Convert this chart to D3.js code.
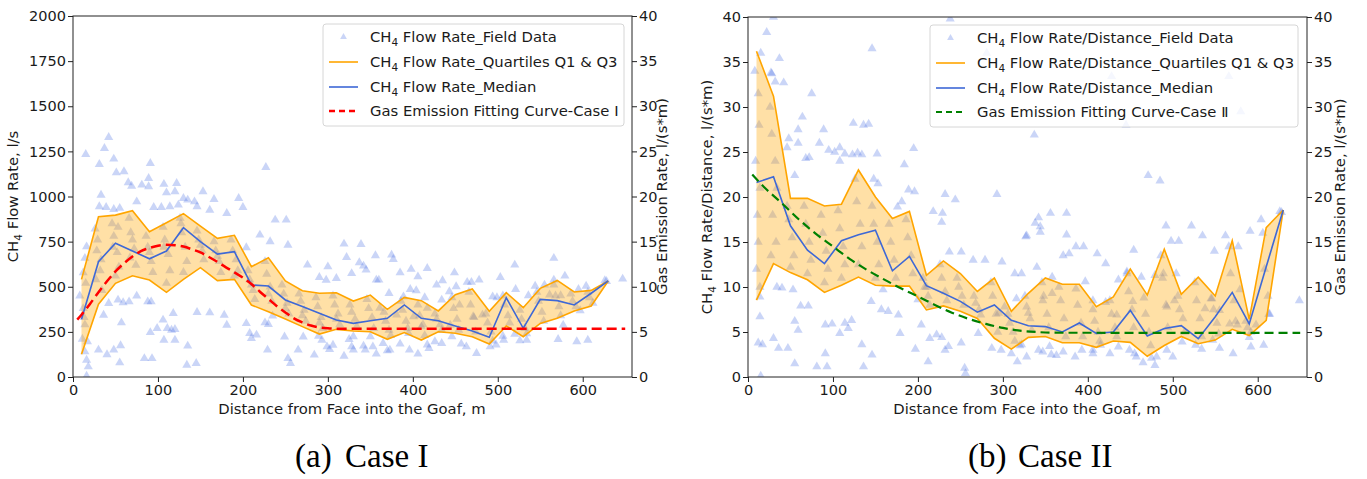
<!DOCTYPE html>
<html>
<head>
<meta charset="utf-8">
<script src="https://cdn.jsdelivr.net/npm/d3@7/dist/d3.min.js"></script>
<style>
body { margin: 0; background: #fff; }
svg text { font-family: "DejaVu Sans", sans-serif; fill: #1a1a1a; }
</style>
</head>
<body>
<svg id="chart" width="1367" height="479"></svg>
<script>
// bin centres used for quartiles and medians (m)
var binX = [10, 30, 50, 70, 90, 110, 130, 150, 170, 190, 210, 230, 250, 270, 290, 310,
            330, 350, 370, 390, 410, 430, 450, 470, 490, 510, 530, 550, 570, 590, 610, 630];
var xTicks = [0, 100, 200, 300, 400, 500, 600];
var leftTicks = [0, 250, 500, 750, 1000, 1250, 1500, 1750, 2000];
var rateTicks = [0, 5, 10, 15, 20, 25, 30, 35, 40];

// Case I, CH4 flow rate (l/s)
var caseOneQ1 = [126, 403, 519, 561, 537, 469, 541, 606, 534, 541, 399, 362, 321, 279, 238, 264,
                 255, 251, 209, 246, 205, 251, 242, 223, 183, 283, 223, 297, 325, 366, 393, 532];
var caseOneQ3 = [541, 888, 897, 921, 805, 855, 905, 836, 768, 785, 611, 661, 532, 478, 464, 467,
                 421, 454, 375, 441, 423, 366, 456, 488, 364, 467, 384, 491, 535, 471, 480, 532];
var caseOneMedian = [320, 639, 741, 698, 655, 698, 827, 750, 681, 694, 510, 504, 427, 390, 353, 316,
                     297, 312, 325, 399, 325, 312, 283, 255, 220, 439, 270, 430, 423, 399, 464, 532];
// fitting curve, gas emission rate l/(s*m)
var caseOneFitX = [5, 10, 20, 30, 40, 50, 60, 70, 80, 90, 100, 110, 120, 130, 140, 150, 160, 170,
                   180, 190, 200, 210, 220, 230, 240, 250, 260, 270, 280, 290, 300, 310, 320, 650];
var caseOneFitY = [6.35, 6.9, 8.1, 9.4, 10.6, 11.7, 12.6, 13.35, 13.95, 14.3, 14.55, 14.65, 14.6, 14.45,
                   14.15, 13.8, 13.3, 12.75, 12.15, 11.6, 11.0, 10.3, 9.45, 8.65, 7.85, 7.15, 6.5, 6.05,
                   5.7, 5.5, 5.4, 5.36, 5.36, 5.36];
var caseOneField = [
  [42,1328],[37,1267],[15,1234],[31,1178],[48,1208],[51,1132],[60,1138],[91,1184],[65,1077],[69,1058],
  [81,1064],[89,1101],[89,1055],[107,1068],[122,1073],[110,1021],[120,1027],[130,990],[135,981],[143,971],
  [153,1027],[166,984],[195,990],[227,1162],[33,1008],[31,944],[39,940],[48,929],[55,935],[75,971],
  [95,940],[104,940],[114,944],[124,953],[146,944],[161,925],[181,907],[200,940],[238,870],[251,870],
  [204,717],[220,787],[232,750],[253,731],[276,621],[290,552],[300,611],[319,737],[322,663],[328,574],
  [310,547],[298,537],[12,578],[16,722],[14,658],[17,196],[14,140],[16,94],[18,57],[16,5],
  [30,150],[40,124],[48,150],[56,174],[55,79],[57,301],[36,343],[42,408],[53,427],[59,412],
  [66,417],[75,449],[88,417],[92,417],[91,247],[99,270],[106,316],[111,270],[118,353],[116,260],
  [120,264],[107,205],[120,205],[84,103],[93,103],[135,172],[134,66],[145,76],[146,358],[161,356],
  [181,288],[178,343],[204,297],[210,214],[216,233],[208,242],[229,150],[226,301],[235,338],[230,292],
  [249,223],[253,103],[256,76],[265,150],[271,223],[284,122],[293,205],[299,168],[302,153],[306,177],
  [319,116],[325,209],[330,150],[289,227],
  [339,735],[337,634],[342,615],[345,593],[356,673],[375,676],[377,652],[357,538],[360,538],[385,578],
  [398,597],[406,556],[417,602],[372,464],[389,445],[397,486],[404,479],[414,440],[428,510],[435,534],
  [443,473],[449,578],[451,501],[464,525],[469,525],[478,538],[494,445],[499,440],[503,552],[520,621],
  [521,486],[536,451],[544,504],[555,510],[566,658],[566,538],[579,560],[561,455],[574,451],[595,486],
  [604,504],[626,534],[647,543],[597,368],[577,288],[571,209],[593,196],[606,205],[534,205],[526,201],
  [507,205],[506,227],[520,237],[491,168],[498,178],[475,131],[463,168],[457,183],[446,224],[434,187],
  [426,196],[417,178],[419,159],[406,128],[396,150],[385,183],[373,150],[370,146],[357,128],[353,168],
  [344,150],[342,172],[365,187],[328,168],[330,224],[350,224],[361,381],[381,344],[401,335],[417,381],
  [434,427],[455,399],[471,335],[482,344],[444,288],[395,242],[410,279],
  [8,450],[12,380],[14,290],[11,210],[15,520],[13,330],[26,820],[28,700],[32,590],[34,480],
  [29,760],[33,650],[27,540],[46,850],[48,780],[52,690],[54,610],[50,560],[47,720],[53,830],
  [66,880],[68,800],[72,710],[74,620],[70,760],[67,660],[86,780],[88,720],[92,640],[94,580],
  [90,690],[106,830],[108,760],[112,680],[114,590],[110,520],[107,720],[126,880],[128,800],[132,720],
  [134,640],[130,580],[127,850],[146,810],[148,760],[152,700],[154,650],[150,730],[166,750],[168,700],
  [172,640],[174,580],[170,670],[186,760],[188,700],[192,650],[194,590],[190,560],[206,590],[208,540],
  [212,480],[214,430],[210,510],[226,640],[228,570],[232,500],[234,420],[230,460],[246,510],[248,460],
  [252,410],[254,350],[250,380],[266,460],[268,420],[272,370],[274,310],[270,340],[286,440],[288,390],
  [292,330],[294,270],[290,300],[306,450],[308,400],[312,350],[314,290],[310,320],[326,400],[328,360],
  [332,320],[334,280],[346,430],[348,380],[352,330],[354,270],[366,360],[368,310],[372,260],[374,230],
  [386,420],[388,370],[392,310],[394,270],[406,400],[408,340],[412,290],[414,230],[426,350],[428,320],
  [432,290],[434,260],[446,440],[448,380],[452,320],[454,260],[466,470],[468,400],[472,330],[474,250],
  [486,350],[488,300],[492,250],[494,200],[506,450],[508,400],[512,340],[514,300],[526,370],[528,320],
  [532,270],[534,240],[546,470],[548,420],[552,360],[554,310],[566,510],[568,450],[572,390],[574,340],
  [586,460],[588,420],[592,390],[606,470],[608,440],[612,410],[628,530]
];

// Case II, CH4 flow rate per distance l/(s*m)
var caseTwoQ1 = [8.55, 12.6, 11.6, 10.8, 9.4, 10.2, 11.1, 10.2, 10.1, 10.1, 7.45, 7.9, 7.3, 6.5, 4.3, 3.1,
                 4.4, 4.5, 3.8, 3.8, 3.3, 4.0, 3.85, 2.3, 3.5, 4.5, 3.7, 4.1, 5.3, 4.6, 6.3, 18.55];
var caseTwoQ3 = [36.2, 31.2, 19.85, 19.85, 19.0, 19.2, 23.0, 20.0, 17.6, 18.4, 11.3, 12.9, 11.5, 9.5, 11.0, 7.3,
                 9.3, 11.0, 10.3, 10.3, 7.8, 8.9, 12.0, 9.1, 14.2, 9.2, 11.1, 9.0, 15.15, 6.4, 16.6, 18.55];
var caseTwoMedian = [21.6, 22.25, 16.8, 14.1, 12.6, 15.15, 15.8, 16.3, 11.8, 13.4, 10.15, 9.3, 8.4, 7.2, 8.0, 6.3,
                     5.7, 5.6, 5.0, 6.0, 4.85, 5.0, 7.4, 4.55, 5.4, 5.7, 4.25, 6.7, 9.4, 5.9, 12.25, 18.55];
var caseTwoFitX = [5, 20, 40, 60, 80, 100, 120, 140, 160, 180, 200, 220, 240, 260, 280, 300, 320, 340, 360, 650];
var caseTwoFitY = [22.5, 21.0, 19.3, 17.5, 15.9, 14.5, 13.1, 11.9, 10.85, 9.85, 8.95, 8.0, 7.15, 6.45,
                   5.9, 5.45, 5.15, 5.0, 4.92, 4.9];
var caseTwoField = [
  [22,38.3],[15,36.0],[37,35.4],[28,33.7],[32,32.8],[42,32.7],[75,31.5],[146,36.5],[48,26.5],[46,25.5],
  [59,26.0],[55,22.4],[64,28.9],[59,27.5],[68,24.3],[72,24.4],[84,26.0],[89,27.5],[95,25.2],[102,25.0],
  [108,24.0],[108,25.5],[114,24.8],[124,28.2],[136,28.0],[142,28.1],[123,24.7],[129,24.9],[134,24.7],[152,24.8],
  [148,22.0],[153,21.5],[184,23.6],[195,25.4],[189,20.8],[196,20.6],[181,19.5],[176,18.9],[232,20.3],[244,19.7],
  [293,20.3],[218,18.4],[229,18.2],[228,17.2],[328,15.7],[337,26.9],[237,13.9],[251,13.9],[265,13.0],[279,13.0],
  [299,12.8],[314,11.5],[30,40],[238,39.8],[428,33.4],[566,33.4],[580,29.5],[445,28],[281,36],[27,33.8],
  [14,8.9],[14,6.7],[12,3.8],[17,3.6],[15,0.1],[30,4.3],[36,3.2],[47,3.2],[40,9.9],[34,10.0],
  [53,9.7],[62,7.9],[71,7.9],[55,6.2],[59,5.2],[55,1.5],[81,1.15],[91,2.6],[93,1.15],[91,5.8],
  [99,5.9],[114,6.0],[118,5.4],[108,4.85],[122,6.3],[136,1.15],[146,2.45],[134,3.6],[145,8.4],[159,9.7],
  [157,7.5],[165,7.3],[177,6.9],[179,4.85],[200,8.6],[210,10.0],[204,5.8],[197,3.1],[214,4.3],[222,4.7],
  [212,1.7],[228,4.4],[232,3.0],[236,3.4],[255,1.0],[256,0.4],[251,3.8],[271,4.85],[287,3.2],[298,3.0],
  [310,2.6],[317,1.7],[322,3.6],[295,7.1],[302,7.8],[316,8.7],[330,7.1],
  [322,11.5],[327,15.6],[338,17.1],[342,17.7],[344,16.7],[344,16.1],[356,18.2],[375,18.2],[375,15.8],[340,12.2],
  [358,11.1],[347,8.5],[358,9.3],[371,13.5],[378,13.7],[386,14.5],[395,14.5],[411,13.7],[421,12.6],[446,11.7],
  [454,14.1],[471,22.4],[485,21.8],[492,16.8],[498,15.1],[507,15.1],[522,16.8],[535,15.7],[549,14.0],[562,15.7],
  [577,14.5],[591,16.2],[604,17.5],[626,18.4],[649,8.5],[489,11.5],[504,11.5],[479,11.3],[463,11.1],[436,10.8],
  [397,10.6],[406,8.5],[421,8.3],[434,6.9],[453,8.4],[493,7.8],[502,8.5],[538,7.6],[545,8.7],[555,7.4],
  [567,5.9],[579,9.7],[576,5.8],[598,5.8],[613,7.0],[320,3.5],[328,2.25],[342,3.0],[347,2.8],[355,3.4],
  [357,2.5],[363,2.4],[371,2.8],[385,2.25],[393,3.0],[406,2.6],[406,3.0],[415,3.55],[426,2.6],[436,3.35],
  [449,3.0],[455,2.6],[457,2.25],[465,1.6],[475,2.1],[479,1.3],[481,2.25],[493,3.0],[500,2.25],[511,3.9],
  [527,3.55],[534,3.1],[547,4.1],[555,3.2],[571,2.6],[592,3.35],[607,3.55],[590,4.4],
  [8,34],[12,31.5],[13,28],[9,24],[14,21],[11,18],[12,15],[10,12],[14,10],[26,30],
  [28,27],[32,24],[34,21],[29,18],[33,15],[27,13.5],[46,19],[48,17.5],[52,15.5],[54,13.5],
  [50,12.2],[66,19],[68,17],[72,15],[74,13],[70,11.5],[86,18],[88,16],[92,14],[94,12],
  [90,10.5],[106,18.5],[108,16.5],[112,14.5],[114,12.5],[110,11],[126,22],[128,19.5],[132,17],[134,14.5],
  [130,12.5],[146,19],[148,17],[152,15],[154,12.5],[150,11],[166,17],[168,15],[172,13],[174,11],
  [186,17.5],[188,15.5],[192,13.5],[194,11.5],[206,11],[208,10],[212,9],[214,8],[226,12.5],[228,11],
  [232,9.5],[234,8.5],[246,11],[248,10],[252,9],[254,8],[266,9],[268,8.2],[272,7.5],[274,6.9],
  [286,10.5],[288,9],[292,7],[294,5],[306,7],[308,6],[312,5],[314,4],[326,9],[328,7.8],
  [332,6.5],[334,5.2],[346,10.5],[348,9],[352,7],[354,5.5],[366,10],[368,8.5],[372,6.5],[374,4.5],
  [386,9.8],[388,8],[392,6],[394,4.5],[406,7.5],[408,6.2],[412,5],[414,4],[426,8.5],[428,7],
  [432,5.5],[434,4.5],[446,11.5],[448,9.5],[452,7.5],[454,5.5],[466,8.8],[468,7],[472,5],[474,3.5],
  [486,13.5],[488,11],[492,8],[494,5.5],[506,9],[508,7.5],[512,6.5],[514,5],[526,10.5],[528,8.5],
  [532,6.5],[534,4.5],[546,8.7],[548,7.5],[552,6],[554,4.8],[566,14.5],[568,11.5],[572,8.5],[574,6.2],
  [586,6.2],[588,5.5],[592,5],[606,16],[608,12],[612,9],[614,7],[628,18.3]
];

var svg = d3.select("#chart");

var panels = [
  {
    x0: 73, x1: 632, top: 16, bottom: 377,
    yMax: 2000, yTicks: leftTicks,
    q1: caseOneQ1, q3: caseOneQ3, median: caseOneMedian, field: caseOneField,
    fitX: caseOneFitX, fitY: caseOneFitY, fitColor: "red", fitWidth: 2.5, fitDash: "10,5",
    leftLabel: ["CH", "4", " Flow Rate, l/s"], leftLabelX: 18,
    rightLabelX: 662, xLabelX: 352,
    legend: { x: 323, y: 24, w: 301, h: 102, textX: 370, rows: [37, 62, 87, 111] },
    names: [["CH", "4", " Flow Rate_Field Data"], ["CH", "4", " Flow Rate_Quartiles Q1 & Q3"],
            ["CH", "4", " Flow Rate_Median"], ["", "", "Gas Emission Fitting Curve-Case I"]],
    capTag: "(a)", capTagX: 295, capText: "Case I", capTextX: 345
  },
  {
    x0: 748, x1: 1307, top: 17, bottom: 377,
    yMax: 40, yTicks: rateTicks,
    q1: caseTwoQ1, q3: caseTwoQ3, median: caseTwoMedian, field: caseTwoField,
    fitX: caseTwoFitX, fitY: caseTwoFitY, fitColor: "green", fitWidth: 2.2, fitDash: "9,5",
    leftLabel: ["CH", "4", " Flow Rate/Distance, l/(s*m)"], leftLabelX: 712,
    rightLabelX: 1340, xLabelX: 1027,
    legend: { x: 930, y: 25, w: 368, h: 102, textX: 977, rows: [38, 63, 88, 112] },
    names: [["CH", "4", " Flow Rate/Distance_Field Data"], ["CH", "4", " Flow Rate/Distance_Quartiles Q1 & Q3"],
            ["CH", "4", " Flow Rate/Distance_Median"], ["", "", "Gas Emission Fitting Curve-Case \u2161"]],
    capTag: "(b)", capTagX: 968, capText: "Case II", capTextX: 1018
  }
];

function subText(sel, parts) {
  sel.append("tspan").text(parts[0]);
  if (parts[1]) {
    sel.append("tspan").attr("dy", 4).style("font-size", "10.5px").text(parts[1]);
    sel.append("tspan").attr("dy", -4).text(parts[2]);
  } else {
    sel.append("tspan").text(parts[2]);
  }
}

var triangle = d3.symbol().type(d3.symbolTriangle).size(36);

panels.forEach(function(p) {
  var x = d3.scaleLinear().domain([0, 658]).range([p.x0, p.x1]);
  var y = d3.scaleLinear().domain([0, p.yMax]).range([p.bottom, p.top]);
  var yRate = d3.scaleLinear().domain([0, 40]).range([p.bottom, p.top]);

  var g = svg.append("g");
  var clipId = "clip" + p.x0;
  svg.append("clipPath").attr("id", clipId).append("rect")
    .attr("x", p.x0).attr("y", p.top).attr("width", p.x1 - p.x0).attr("height", p.bottom - p.top);

  var plot = g.append("g").attr("clip-path", "url(#" + clipId + ")");

  // field data
  plot.selectAll("path.pt")
    .data(p.field)
    .enter().append("path")
    .attr("class", "pt")
    .attr("transform", function(d) { return "translate(" + x(d[0]) + "," + y(d[1]) + ")"; })
    .attr("d", triangle)
    .style("fill", "royalblue")
    .style("fill-opacity", 0.28);

  // quartile band
  var band = d3.area()
    .x(function(d, i) { return x(binX[i]); })
    .y0(function(d, i) { return y(p.q1[i]); })
    .y1(function(d, i) { return y(p.q3[i]); });
  plot.append("path").datum(binX).attr("d", band)
    .style("fill", "#ffa500").style("fill-opacity", 0.35);

  var line = d3.line()
    .x(function(d, i) { return x(binX[i]); })
    .y(function(d) { return y(d); });
  [p.q1, p.q3].forEach(function(q) {
    plot.append("path").datum(q).attr("d", line)
      .style("fill", "none").style("stroke", "#ffa500").style("stroke-width", 1.6);
  });
  plot.append("path").datum(p.median).attr("d", line)
    .style("fill", "none").style("stroke", "#3e68d6").style("stroke-width", 1.6);

  // fitting curve on the gas emission rate axis
  var fit = d3.line()
    .curve(d3.curveMonotoneX)
    .x(function(d, i) { return x(p.fitX[i]); })
    .y(function(d) { return yRate(d); });
  plot.append("path").datum(p.fitY).attr("d", fit)
    .style("fill", "none").style("stroke", p.fitColor)
    .style("stroke-width", p.fitWidth).style("stroke-dasharray", p.fitDash);

  // frame
  g.append("rect").attr("x", p.x0).attr("y", p.top)
    .attr("width", p.x1 - p.x0).attr("height", p.bottom - p.top)
    .style("fill", "none").style("stroke", "#222").style("stroke-width", 1);

  var fmt = d3.format("d");
  var xAxis = g.append("g").attr("transform", "translate(0," + p.bottom + ")")
    .call(d3.axisBottom(x).tickValues(xTicks).tickFormat(fmt).tickSize(5).tickPadding(3).tickSizeOuter(0));
  var yAxis = g.append("g").attr("transform", "translate(" + p.x0 + ",0)")
    .call(d3.axisLeft(y).tickValues(p.yTicks).tickFormat(fmt).tickSize(5).tickPadding(2).tickSizeOuter(0));
  var rAxis = g.append("g").attr("transform", "translate(" + p.x1 + ",0)")
    .call(d3.axisRight(yRate).tickValues(rateTicks).tickFormat(fmt).tickSize(5).tickPadding(2).tickSizeOuter(0));
  [xAxis, yAxis, rAxis].forEach(function(a) {
    a.select(".domain").remove();
    a.selectAll("line").style("stroke", "#222");
    a.selectAll("text").style("font-size", "14.5px").style("font-family", "DejaVu Sans").style("fill", "#1a1a1a");
  });

  // axis titles
  var midY = (p.top + p.bottom) / 2;
  var lt = g.append("text")
    .attr("transform", "translate(" + p.leftLabelX + "," + midY + ")rotate(-90)")
    .attr("text-anchor", "middle").style("font-size", "14.8px");
  subText(lt, p.leftLabel);
  g.append("text")
    .attr("transform", "translate(" + p.rightLabelX + "," + midY + ")rotate(-90)")
    .attr("text-anchor", "middle").attr("dy", "0.35em").style("font-size", "14.8px")
    .text("Gas Emission Rate, l/(s*m)");
  g.append("text").attr("x", p.xLabelX).attr("y", 414)
    .attr("text-anchor", "middle").style("font-size", "14.8px")
    .text("Distance from Face into the Goaf, m");

  // legend
  var L = p.legend;
  var lg = g.append("g");
  lg.append("rect").attr("x", L.x).attr("y", L.y).attr("width", L.w).attr("height", L.h)
    .attr("rx", 3).style("fill", "#fff").style("fill-opacity", 0.8)
    .style("stroke", "#d6d6d6").style("stroke-width", 1);
  var hx0 = L.x + 6, hx1 = L.x + 35;
  lg.append("path").attr("d", d3.symbol().type(d3.symbolTriangle).size(20))
    .attr("transform", "translate(" + ((hx0 + hx1) / 2) + "," + L.rows[0] + ")")
    .style("fill", "royalblue").style("fill-opacity", 0.28);
  var handles = [
    { c: "#ffa500", w: 1.6, dash: null },
    { c: "#3e68d6", w: 1.6, dash: null },
    { c: p.fitColor, w: p.fitWidth, dash: "6,4" }
  ];
  handles.forEach(function(h, i) {
    lg.append("line").attr("x1", hx0).attr("x2", hx1)
      .attr("y1", L.rows[i + 1]).attr("y2", L.rows[i + 1])
      .style("stroke", h.c).style("stroke-width", h.w)
      .style("stroke-dasharray", h.dash);
  });
  p.names.forEach(function(n, i) {
    var t = lg.append("text").attr("x", L.textX).attr("y", L.rows[i] + 5).style("font-size", "14.8px");
    subText(t, n);
  });

  // caption
  g.append("text").attr("x", p.capTagX).attr("y", 467)
    .style("font-family", "Liberation Serif").style("font-size", "33px").style("fill", "#000")
    .text(p.capTag);
  g.append("text").attr("x", p.capTextX).attr("y", 467)
    .style("font-family", "Liberation Serif").style("font-size", "33px").style("fill", "#000")
    .text(p.capText);
});
</script>
</body>
</html>
